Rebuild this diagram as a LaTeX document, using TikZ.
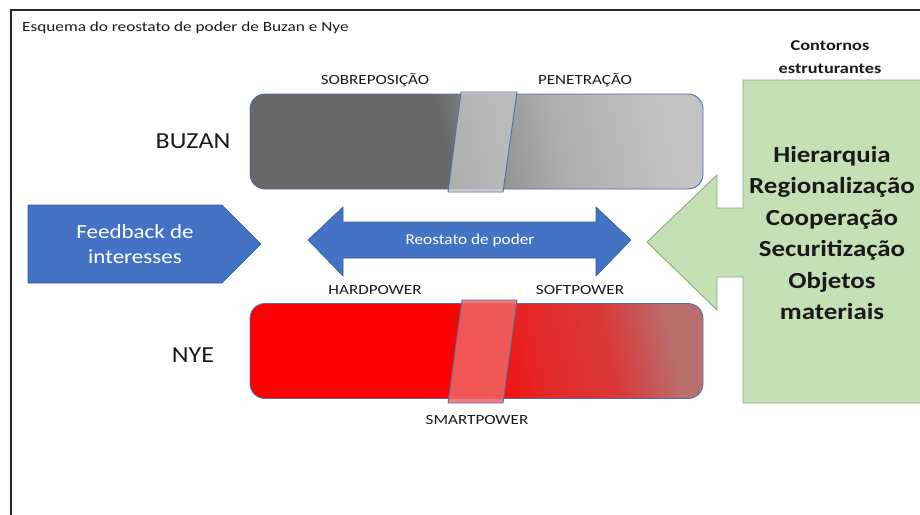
\documentclass[tikz,border=0pt]{standalone}
\usepackage{fontspec}
\setmainfont{Carlito}
\usetikzlibrary{positioning}
\definecolor{bluefill}{HTML}{4472C4}
\definecolor{barline}{RGB}{85,112,160}
\definecolor{greenfill}{HTML}{C5E0B4}
\definecolor{greenline}{RGB}{140,170,120}
\definecolor{gdark}{RGB}{104,104,104}
\definecolor{gmid}{RGB}{150,150,150}
\definecolor{glight}{RGB}{196,196,196}
\definecolor{rfull}{RGB}{250,0,0}
\definecolor{rmid}{RGB}{228,40,40}
\definecolor{rgray}{RGB}{185,110,110}
\pgfdeclarehorizontalshading{buzanshade}{100bp}{color(0bp)=(gdark); color(25bp)=(gdark); color(46bp)=(gdark); color(53bp)=(gmid); color(60bp)=(glight!75!gdark); color(75bp)=(glight); color(100bp)=(glight)}
\pgfdeclarehorizontalshading{nyeshade}{100bp}{color(0bp)=(rfull); color(25bp)=(rfull); color(47bp)=(rfull); color(58bp)=(rmid); color(67bp)=(rmid!75!rgray); color(75bp)=(rgray); color(100bp)=(rgray)}
\tikzset{
  lbl/.style={font=\fontsize{14}{16}\selectfont, text=black!90, xscale=1.22},
  big/.style={font=\fontsize{23}{26}\selectfont, text=black!90, xscale=1.13},
  bar/.style={draw=barline, line width=0.9pt, rounded corners=15pt, minimum width=453pt, minimum height=95pt, inner sep=0pt},
  slider/.style={draw=barline, line width=0.9pt},
  bluebox/.style={fill=bluefill, draw=bluefill!80!black, line width=0.6pt},
}
\begin{document}
\begin{tikzpicture}[x=1pt,y=-1pt]
\useasboundingbox (0,0) rectangle (920,514);
% frame
\draw[line width=2pt, black!85] (11,520) -- (11,10) -- (925,10);
\node[anchor=west, font=\fontsize{14}{16}\selectfont, text=black!90, xscale=1.23, inner sep=0pt] (title) at (22,28) {Esquema do reostato de poder de Buzan e Nye};

% BUZAN bar
\node[bar, shading=buzanshade, shading angle=12] (buzan) at (476.5,141.5) {};
\path[slider, fill=gray!45, fill opacity=0.75] (461,92) -- (517,92) -- (503,192) -- (448,192) -- cycle;
\node[lbl] (sobre) at (375,80) {SOBREPOSIÇÃO};
\node[lbl] (pene) at (585,80) {PENETRAÇÃO};
\node[big] (buzanlbl) at (193,141) {BUZAN};

% NYE bar
\node[bar, shading=nyeshade, shading angle=12] (nye) at (476.5,351) {};
\path[slider, fill={rgb,255:red,240;green,100;blue,100}, fill opacity=0.85] (462,300) -- (517,300) -- (503,403) -- (448,403) -- cycle;
\node[lbl] (hard) at (375,290) {HARDPOWER};
\node[lbl] (soft) at (580,290) {SOFTPOWER};
\node[lbl] (smart) at (477,420) {SMARTPOWER};
\node[big] (nyelbl) at (193,355) {NYE};

% feedback pentagon
\path[bluebox] (28,205) -- (222,205) -- (261,244) -- (222,283) -- (28,283) -- cycle;
\node[text=white, font=\fontsize{20}{25}\selectfont, align=center, xscale=1.15] (feedback) at (135,244) {Feedback de\\interesses};

% double arrow
\path[bluebox] (308,240) -- (343,207) -- (343,222) -- (596,222) -- (596,207) -- (631,240) -- (596,276) -- (596,258) -- (343,258) -- (343,276) -- cycle;
\node[text=white, font=\fontsize{15}{18}\selectfont, xscale=1.15] (reo) at (470,240) {Reostato de poder};

% green callout
\path[fill=greenfill, draw=greenline, line width=0.9pt] (743,80) -- (925,80) -- (925,403) -- (743,403) -- (743,277) -- (717,277) -- (717,310) -- (647,242) -- (717,175) -- (717,208) -- (743,208) -- cycle;
\node[font=\bfseries\fontsize{15}{23}\selectfont, align=center, text=black!90, xscale=1.22] (contornos) at (830,57) {Contornos\\estruturantes};
\node[font=\bfseries\fontsize{23}{31.4}\selectfont, align=center, text=black!90, xscale=1.17] (lista) at (832,233) {Hierarquia\\Regionalização\\Cooperação\\Securitização\\Objetos\\materiais};
\end{tikzpicture}
\end{document}
